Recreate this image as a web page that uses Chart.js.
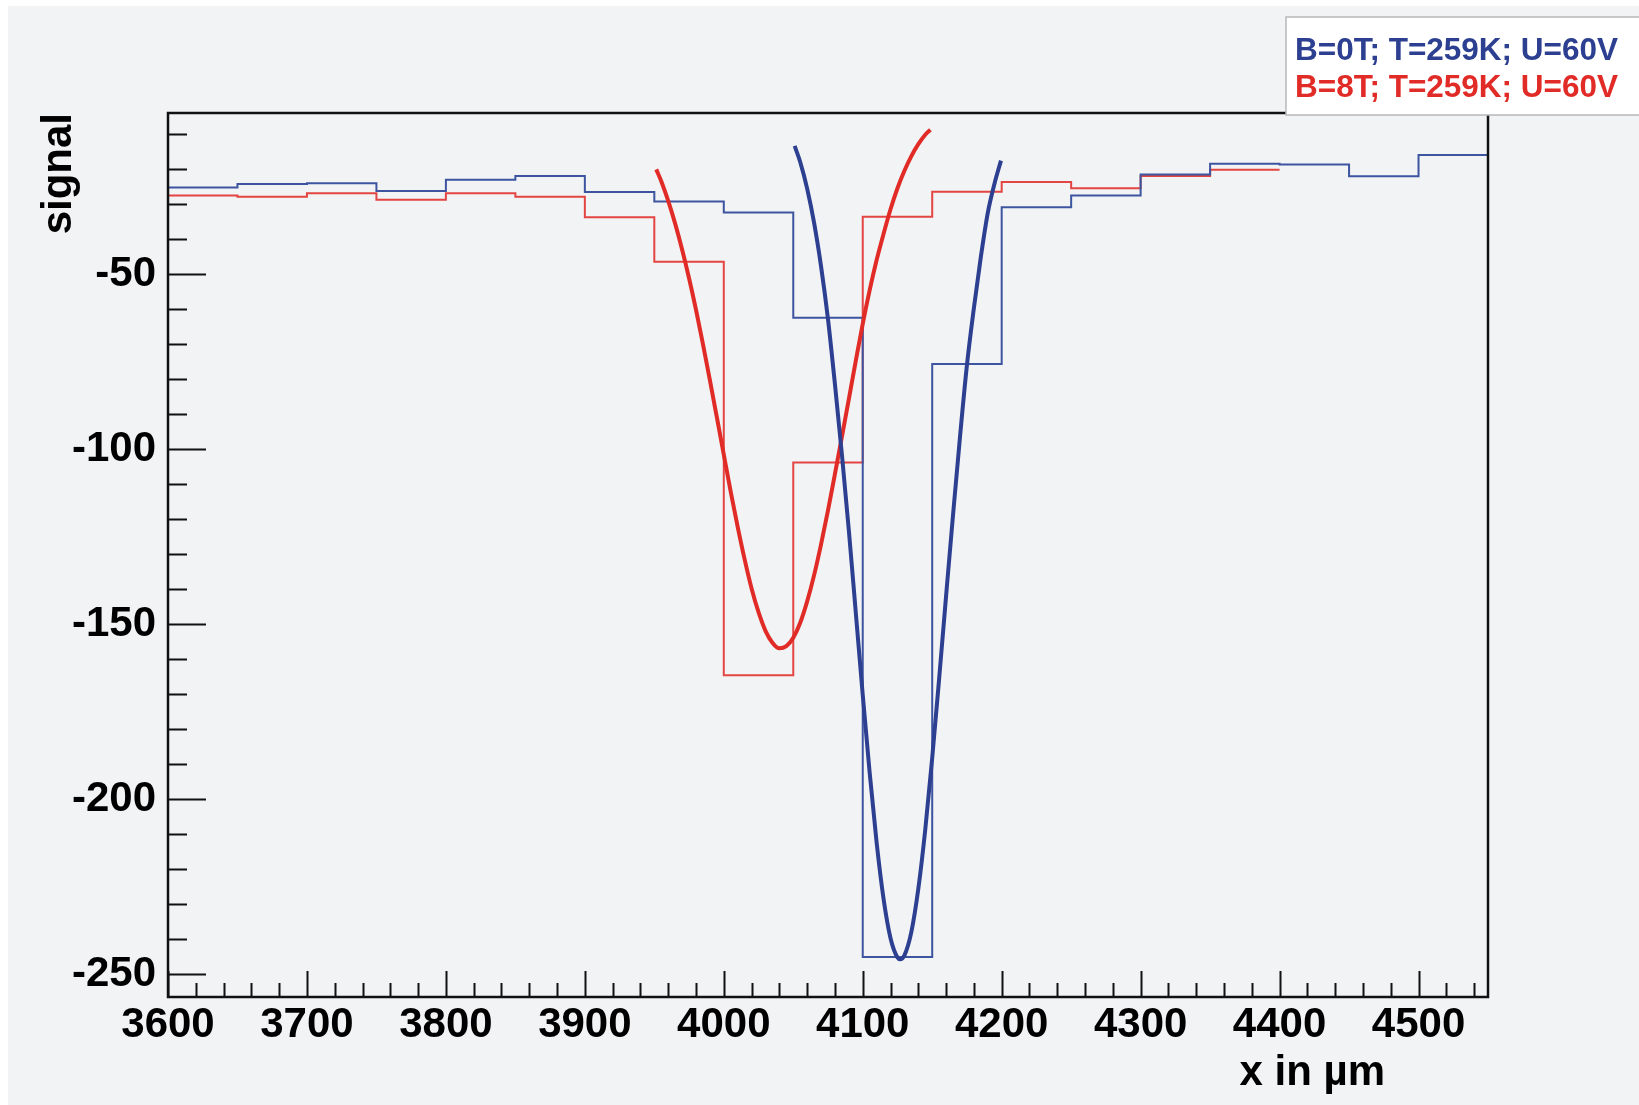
<!DOCTYPE html>
<html>
<head>
<meta charset="utf-8">
<title>signal vs x</title>
<script src="https://cdn.jsdelivr.net/npm/chart.js@4.4.1/dist/chart.umd.min.js"></script>
<style>
  html, body { margin: 0; padding: 0; background: #ffffff; }
  #wrap { position: relative; width: 1639px; height: 1105px; }
</style>
</head>
<body>
<div id="wrap"><canvas id="chart"></canvas></div>
<script>
// histogram bins are 50 um wide, value = signal in that bin
const binEdgesBlue = [3600, 3650, 3700, 3750, 3800, 3850, 3900, 3950, 4000, 4050,
                      4100, 4150, 4200, 4250, 4300, 4350, 4400, 4450, 4500, 4550];
const signalBlue = [-25.3, -24.3, -24.1, -26.3, -23.1, -22.0, -26.6, -29.3, -32.4, -62.5,
                    -245.1, -75.7, -30.9, -27.6, -21.6, -18.5, -18.7, -22.1, -16.0];

const binEdgesRed = [3600, 3650, 3700, 3750, 3800, 3850, 3900, 3950, 4000, 4050,
                     4100, 4150, 4200, 4250, 4300, 4350, 4400];
const signalRed = [-27.6, -27.9, -26.9, -28.8, -26.9, -27.9, -33.8, -46.5, -164.6, -103.8,
                   -33.6, -26.5, -23.7, -25.5, -22.0, -20.2];

// fitted curves
const fitBlueX = [4051, 4055, 4060, 4065, 4070, 4075, 4080, 4085, 4090, 4095, 4100, 4105,
                  4110, 4115, 4120, 4125, 4127, 4130, 4135, 4140, 4145, 4150, 4155, 4160,
                  4165, 4170, 4175, 4180, 4185, 4190, 4195, 4199.5];
const fitBlueY = [-13.4, -18.0, -25.6, -35.4, -47.8, -62.9, -81.5, -101.5, -123.2, -146.7, -170.2, -192.5,
                  -212.4, -228.5, -239.7, -245.2, -245.7, -244.6, -237.9, -225.6, -208.7, -188.2, -165.5, -141.9,
                  -118.7, -96.5, -76.0, -59.7, -45.1, -32.5, -23.9, -17.6];

const fitRedX = [3951.4, 3955, 3960, 3965, 3970, 3975, 3980, 3985, 3990, 3995, 4000, 4005,
                 4010, 4015, 4020, 4025, 4030, 4035, 4040, 4045, 4050, 4055, 4060, 4065,
                 4070, 4075, 4080, 4085, 4090, 4095, 4100, 4105, 4110, 4115, 4120, 4125,
                 4130, 4135, 4140, 4145, 4148.7];
const fitRedY = [-20.1, -23.5, -29.1, -35.6, -43.0, -51.2, -60.2, -70.0, -80.3, -90.9, -101.6, -112.2,
                 -122.2, -131.5, -139.8, -146.6, -151.9, -155.3, -156.9, -156.3, -153.9, -149.6, -143.5, -136.0,
                 -127.2, -117.5, -107.1, -96.5, -85.7, -74.8, -64.2, -54.6, -46.0, -38.5, -31.5, -25.5,
                 -20.5, -16.3, -12.9, -10.2, -8.8];

const xTickLabels = [3600, 3700, 3800, 3900, 4000, 4100, 4200, 4300, 4400, 4500];
const yTickLabels = [-50, -100, -150, -200, -250];
const seriesLabels = ['B=0T; T=259K; U=60V', 'B=8T; T=259K; U=60V'];

const BLUE = '#2c3f90';
const BLUE_H = '#3d55a0';
const RED = '#e12b27';
const RED_H = '#e34542';
const FONT = '"Liberation Sans", Arial, Helvetica, sans-serif';

// histogram outline: one point per left bin edge + closing point at the last edge
function histPoints(edges, vals) {
    const pts = vals.map((v, i) => ({x: edges[i], y: v}));
    pts.push({x: edges[edges.length - 1], y: vals[vals.length - 1]});
    return pts;
}
function curvePoints(xs, ys) {
    return xs.map((x, i) => ({x: x, y: ys[i]}));
}

const rootStyle = {
    id: 'rootStyle',
    beforeDraw(chart) {
        const ctx = chart.ctx;
        ctx.save();
        ctx.fillStyle = '#ffffff';
        ctx.fillRect(0, 0, chart.width, chart.height);
        ctx.fillStyle = '#f2f3f5';
        ctx.fillRect(8, 6, chart.width - 8, chart.height - 6);
        ctx.restore();
    },
    afterDraw(chart) {
        const ctx = chart.ctx;
        const a = chart.chartArea;
        const xs = chart.scales.x, ys = chart.scales.y;
        ctx.save();
        ctx.strokeStyle = '#111';
        ctx.lineWidth = 2;
        // inward ticks, y axis
        ctx.beginPath();
        for (let v = -10; v >= -250; v -= 10) {
            const y = Math.round(ys.getPixelForValue(v)) + 0.5;
            const len = (v % 50 === 0) ? 38 : 19;
            ctx.moveTo(a.left, y);
            ctx.lineTo(a.left + len, y);
        }
        // inward ticks, x axis
        for (let v = 3600; v <= 4540; v += 20) {
            const x = Math.round(xs.getPixelForValue(v)) + 0.5;
            const len = (v % 100 === 0) ? 26 : 14;
            ctx.moveTo(x, a.bottom);
            ctx.lineTo(x, a.bottom - len);
        }
        ctx.stroke();
        ctx.lineWidth = 2.5;
        ctx.strokeRect(a.left, a.top, a.right - a.left, a.bottom - a.top);

        // axis titles
        ctx.fillStyle = '#000';
        ctx.font = 'bold 42px ' + FONT;
        ctx.textAlign = 'right';
        ctx.textBaseline = 'alphabetic';
        ctx.fillText('x in \u00b5m', 1385, 1085);
        ctx.translate(71, a.top);
        ctx.rotate(-Math.PI / 2);
        ctx.fillText('signal', 0, 0);
        ctx.restore();

        // legend box
        ctx.save();
        ctx.fillStyle = '#ffffff';
        ctx.fillRect(1286, 17, 360, 98);
        ctx.strokeStyle = '#b8b8b8';
        ctx.lineWidth = 1.5;
        ctx.strokeRect(1286, 17, 360, 98);
        ctx.font = 'bold 31.5px ' + FONT;
        ctx.textAlign = 'left';
        ctx.textBaseline = 'alphabetic';
        ctx.fillStyle = BLUE;
        ctx.fillText(seriesLabels[0], 1295, 60);
        ctx.fillStyle = RED;
        ctx.fillText(seriesLabels[1], 1295, 97);
        ctx.restore();
    }
};

const ctx = document.getElementById('chart');

new Chart(ctx, {
    type: 'line',
    data: {
        datasets: [
            {
                label: seriesLabels[0] + ' fit',
                data: curvePoints(fitBlueX, fitBlueY),
                borderColor: BLUE,
                borderWidth: 4,
                pointRadius: 0,
                cubicInterpolationMode: 'monotone',
                order: 0
            },
            {
                label: seriesLabels[1] + ' fit',
                data: curvePoints(fitRedX, fitRedY),
                borderColor: RED,
                borderWidth: 4,
                pointRadius: 0,
                cubicInterpolationMode: 'monotone',
                order: 0
            },
            {
                label: seriesLabels[0],
                data: histPoints(binEdgesBlue, signalBlue),
                borderColor: BLUE_H,
                borderWidth: 2,
                pointRadius: 0,
                stepped: 'before',
                order: 1
            },
            {
                label: seriesLabels[1],
                data: histPoints(binEdgesRed, signalRed),
                borderColor: RED_H,
                borderWidth: 2,
                pointRadius: 0,
                stepped: 'before',
                order: 1
            }
        ]
    },
    options: {
        responsive: true,
        maintainAspectRatio: false,
        animation: false,
        devicePixelRatio: 1,
        layout: { padding: { top: 113, right: 151, bottom: 0, left: 0 } },
        plugins: {
            legend: { display: false },
            tooltip: { enabled: false }
        },
        scales: {
            x: {
                type: 'linear',
                min: 3600,
                max: 4550,
                afterBuildTicks: s => { s.ticks = xTickLabels.map(v => ({value: v})); },
                afterFit: s => { s.height = 108; },
                grid: { display: false, drawTicks: false },
                border: { display: false },
                ticks: {
                    color: '#000',
                    font: { family: FONT, weight: 'bold', size: 42 },
                    padding: 3,
                    maxRotation: 0,
                    autoSkip: false,
                    callback: v => String(v)
                }
            },
            y: {
                type: 'linear',
                min: -256.5,
                max: -4,
                afterBuildTicks: s => { s.ticks = yTickLabels.map(v => ({value: v})); },
                afterFit: s => { s.width = 168; },
                grid: { display: false, drawTicks: false },
                border: { display: false },
                ticks: {
                    color: '#000',
                    font: { family: FONT, weight: 'bold', size: 42 },
                    padding: 12,
                    autoSkip: false,
                    callback: v => String(v)
                }
            }
        }
    },
    plugins: [rootStyle]
});
</script>
</body>
</html>
